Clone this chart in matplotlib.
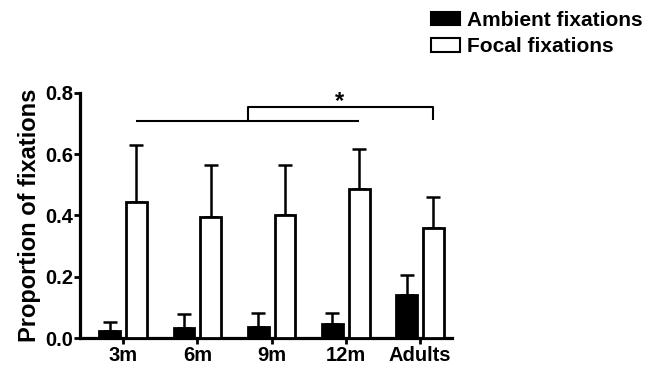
import matplotlib
matplotlib.use("Agg")
import matplotlib.pyplot as plt
import numpy as np
from matplotlib.patches import Patch

plt.rcParams['font.family'] = ['Liberation Sans', 'DejaVu Sans']
plt.rcParams['font.weight'] = 'bold'

categories = ["3m", "6m", "9m", "12m", "Adults"]
ambient = [0.024, 0.032, 0.037, 0.046, 0.14]
ambient_err = [0.028, 0.045, 0.043, 0.037, 0.065]
focal = [0.445, 0.395, 0.40, 0.485, 0.36]
focal_err = [0.185, 0.17, 0.165, 0.13, 0.10]

fig = plt.figure(figsize=(6.49, 3.70), dpi=100)
ax = fig.add_axes([80/649, 1-338/370, (452-80)/649, (338-92.7)/370])

x = np.arange(len(categories))
w = 0.28
off = 0.18
edge_lw = 2.0

ax.bar(x - off, ambient, w, color='black', edgecolor='black', linewidth=edge_lw, zorder=3)
ax.bar(x + off, focal, w, color='white', edgecolor='black', linewidth=edge_lw, zorder=3)
ax.errorbar(x - off, ambient, yerr=[np.zeros(len(ambient)), ambient_err], fmt='none',
            ecolor='black', elinewidth=1.8, capsize=5.0, capthick=1.8, zorder=2)
ax.errorbar(x + off, focal, yerr=[np.zeros(len(focal)), focal_err], fmt='none',
            ecolor='black', elinewidth=1.8, capsize=5.0, capthick=1.8, zorder=2)

ax.set_xlim(-0.58, 4.43)
ax.set_ylim(0, 0.8)
ax.set_yticks([0.0, 0.2, 0.4, 0.6, 0.8])
ax.set_yticklabels(["0.0", "0.2", "0.4", "0.6", "0.8"])
ax.set_xticks(x)
ax.set_xticklabels(categories)
for s in ['top', 'right']:
    ax.spines[s].set_visible(False)
for s in ['left', 'bottom']:
    ax.spines[s].set_linewidth(2.3)
ax.tick_params(axis='y', width=2.0, length=4, labelsize=14.5, pad=1)
ax.tick_params(axis='x', width=2.0, length=4, labelsize=14.5, pad=2)
ax.set_ylabel("Proportion of fixations", fontsize=17, fontweight='bold', labelpad=3)

# significance annotations
lc = dict(color='black', linewidth=1.5, clip_on=False, solid_capstyle='butt')
y1 = 0.707
ax.plot([0 + off, 3 + off], [y1, y1], **lc)
xm = (0 + off + 3 + off) / 2
y2 = 0.753
ax.plot([xm, xm, 4 + off, 4 + off], [y1, y2, y2, 0.71], **lc)
ax.text(3 - 0.08, 0.772, "*", ha='center', va='center', fontsize=17, fontweight='bold')

handles = [Patch(facecolor='black', edgecolor='black', linewidth=1.5),
           Patch(facecolor='white', edgecolor='black', linewidth=1.5)]
fig.legend(handles, ["Ambient fixations", "Focal fixations"], loc='upper left',
           bbox_to_anchor=(431/649, 1 - 11/370), frameon=False, fontsize=15,
           handlelength=1.4, handleheight=0.63, handletextpad=0.34, labelspacing=0.35,
           borderpad=0, borderaxespad=0)

fig.savefig("out.png", dpi=100)
